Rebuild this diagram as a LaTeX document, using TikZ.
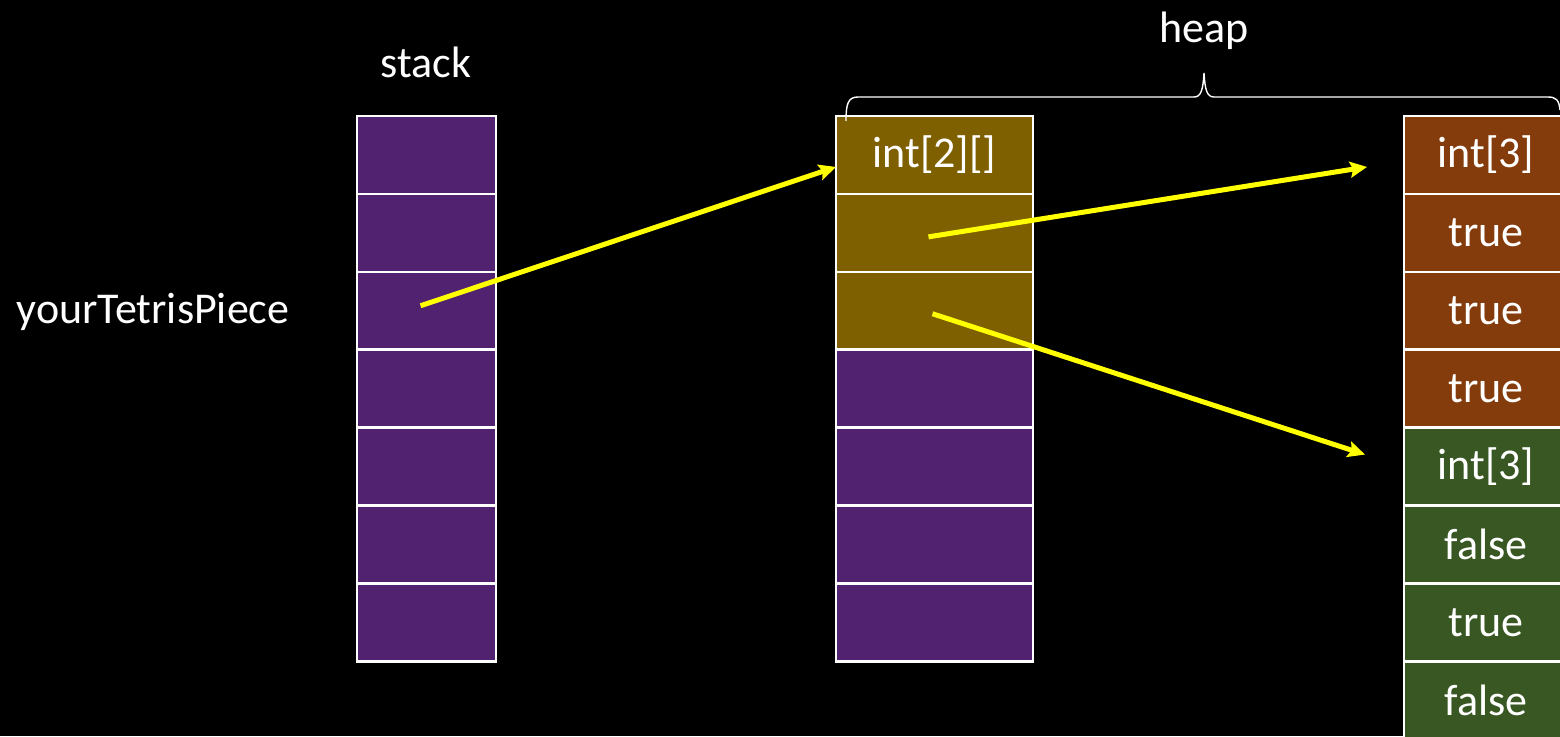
\documentclass[tikz,border=0pt]{standalone}
\usepackage{fontspec}
\setmainfont{Carlito}
\usetikzlibrary{arrows.meta}
\definecolor{slotpurple}{HTML}{512270}
\definecolor{outerolive}{HTML}{7F6000}
\definecolor{rowrust}{HTML}{843C0C}
\definecolor{rowmoss}{HTML}{385723}
\definecolor{pointer}{HTML}{FFFF00}

\begin{document}
\begin{tikzpicture}[x=1pt,y=-1pt,
  cell/.style={draw=white, line width=2.5pt, minimum width=#1,
    minimum height=77.9pt, inner sep=0pt, outer sep=0pt,
    anchor=north west, text=white, font=\fontsize{44}{53}\selectfont},
  label/.style={text=white, inner sep=0pt, font=\fontsize{44}{53}\selectfont},
  ref/.style={draw=pointer, line width=5pt,
    -{Stealth[length=17pt,width=16pt,inset=3pt]}}]

  \useasboundingbox (0,0) rectangle (1560,736);
  \clip (0,0) rectangle (1560,736);
  \fill[black] (0,0) rectangle (1560,736);

  % stack frames
  \foreach \i in {0,...,6}
    \node[cell=139pt, fill=slotpurple] (s\i) at (357,116+77.9*\i) {};

  % outer array int[2][] followed by free heap slots
  \node[cell=197pt, fill=outerolive] (m0) at (836,116) {int[2][]};
  \node[cell=197pt, fill=outerolive] (m1) at (836,116+77.9) {};
  \node[cell=197pt, fill=outerolive] (m2) at (836,116+77.9*2) {};
  \foreach \i in {3,...,6}
    \node[cell=197pt, fill=slotpurple] (m\i) at (836,116+77.9*\i) {};

  % the two inner rows
  \node[cell=164pt, fill=rowrust] (r0) at (1404,116) {int[3]};
  \node[cell=164pt, fill=rowrust] (r1) at (1404,116+77.9) {true};
  \node[cell=164pt, fill=rowrust] (r2) at (1404,116+77.9*2) {true};
  \node[cell=164pt, fill=rowrust] (r3) at (1404,116+77.9*3) {true};
  \node[cell=164pt, fill=rowmoss] (r4) at (1404,116+77.9*4) {int[3]};
  \node[cell=164pt, fill=rowmoss] (r5) at (1404,116+77.9*5) {false};
  \node[cell=164pt, fill=rowmoss] (r6) at (1404,116+77.9*6) {true};
  \node[cell=164pt, fill=rowmoss] (r7) at (1404,116+77.9*7) {false};

  % captions
  \node[label] (stacklbl) at (426,62) {stack};
  \node[label] (heaplbl) at (1204,31) {heap};
  \node[label] (varlbl) at (153,312) {yourTetrisPiece};

  % brace spanning the heap
  \draw[white, line width=1.4pt]
    (846,121) .. controls (846,104) and (848,97) .. (858,97)
    -- (1194,97) .. controls (1201,97) and (1203,90) .. (1204,73)
    .. controls (1205,90) and (1207,97) .. (1214,97)
    -- (1548,97) .. controls (1556,97) and (1559,100) .. (1560,110);

  % references
  \coordinate (p0) at ([xshift=-6pt,yshift=5pt]s2.center);
  \coordinate (p1) at ([xshift=-6pt,yshift=-4pt]m1.center);
  \coordinate (p2) at ([xshift=-2pt,yshift=-3pt]m2.center);
  \coordinate (t1) at ([xshift=-37pt,yshift=-12pt]r0.west);
  \coordinate (t2) at ([xshift=-39pt,yshift=12pt]r4.west);
  \draw[ref] (p0) -- ([yshift=-12pt]m0.west);
  \draw[ref] (p1) -- (t1);
  \draw[ref] (p2) -- (t2);
\end{tikzpicture}
\end{document}
